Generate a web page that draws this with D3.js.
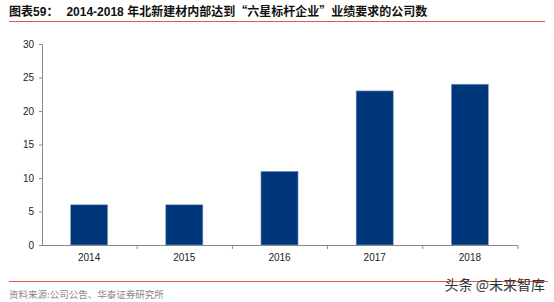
<!DOCTYPE html>
<html>
<head>
<meta charset="utf-8">
<script src="https://cdnjs.cloudflare.com/ajax/libs/d3/7.8.5/d3.min.js"></script>
<style>
  body { margin: 0; background: #fff; }
  text { font-family: "Liberation Sans", Arial, sans-serif; }
  .cjk { font-family: "Noto Sans CJK SC", sans-serif; }
</style>
</head>
<body>
<div id="chart"></div>
<script>
// data
var years = ["2014", "2015", "2016", "2017", "2018"];
var counts = [6, 6, 11, 23, 24];
var yTicks = [0, 5, 10, 15, 20, 25, 30];

var width = 554;
var height = 302;

var svg = d3.select("#chart")
	.append("svg")
	.attr("width", width)
	.attr("height", height);

// title
var title = svg.append("text")
	.attr("x", 9)
	.attr("y", 16)
	.style("font-size", "12px")
	.style("font-weight", "bold")
	.attr("fill", "#111");
title.append("tspan").attr("class", "cjk").text("图表");
title.append("tspan").text("59");
title.append("tspan").attr("class", "cjk").text("：");
title.append("tspan").attr("dx", 8).text("2014-2018 ");
title.append("tspan").attr("class", "cjk").text("年北新建材内部达到“六星标杆企业”业绩要求的公司数");

svg.append("line")
	.attr("x1", 9).attr("x2", 545)
	.attr("y1", 21.5).attr("y2", 21.5)
	.attr("stroke", "#e8544a")
	.attr("stroke-width", 1);

// scales
var xScale = d3.scaleBand()
	.domain(years)
	.range([42, 517])
	.paddingInner(0.61)
	.paddingOuter(0.3);

var yScale = d3.scaleLinear()
	.domain([0, 30])
	.range([245, 44]);

// bars
svg.selectAll("rect.bar")
	.data(counts)
	.enter()
	.append("rect")
	.attr("class", "bar")
	.attr("x", function(d, i){ return xScale(years[i]); })
	.attr("y", function(d){ return yScale(d); })
	.attr("width", xScale.bandwidth())
	.attr("height", function(d){ return yScale(0) - yScale(d); })
	.attr("fill", "#00377a")
	.attr("stroke", "#8aa3c6")
	.attr("stroke-width", 0.6);

// y axis
var yAxis = d3.axisLeft(yScale)
	.tickValues(yTicks)
	.tickSize(3)
	.tickPadding(5);

var gy = svg.append("g")
	.attr("transform", "translate(42,0)")
	.call(yAxis);
gy.select(".domain").attr("stroke", "#888");
gy.selectAll(".tick line").attr("stroke", "#888");
gy.selectAll("text")
	.style("font-size", "10px")
	.attr("fill", "#222");

// x axis: ticks at the category boundaries
var xAxis = d3.axisBottom(xScale).tickSize(0).tickPadding(9);
var gx = svg.append("g")
	.attr("transform", "translate(0,245)")
	.call(xAxis);
gx.select(".domain").attr("stroke", "#888");
gx.selectAll("text")
	.style("font-size", "10px")
	.attr("fill", "#222");

var step = xScale.step();
svg.selectAll("line.sep")
	.data(years)
	.enter()
	.append("line")
	.attr("class", "sep")
	.attr("x1", function(d, i){ return 42 + step * (i + 1); })
	.attr("x2", function(d, i){ return 42 + step * (i + 1); })
	.attr("y1", 245)
	.attr("y2", 249)
	.attr("stroke", "#888");

// footer
svg.append("line")
	.attr("x1", 9).attr("x2", 548)
	.attr("y1", 281.5).attr("y2", 281.5)
	.attr("stroke", "#e8544a")
	.attr("stroke-width", 1);

svg.append("text")
	.attr("class", "cjk")
	.attr("x", 9)
	.attr("y", 298)
	.style("font-size", "9.5px")
	.attr("fill", "#888")
	.text("资料来源:公司公告、华泰证券研究所");

svg.append("text")
	.attr("class", "cjk")
	.attr("x", 545)
	.attr("y", 290)
	.attr("text-anchor", "end")
	.style("font-size", "14px")
	.attr("fill", "#333")
	.text("头条 @未来智库");
</script>
</body>
</html>
